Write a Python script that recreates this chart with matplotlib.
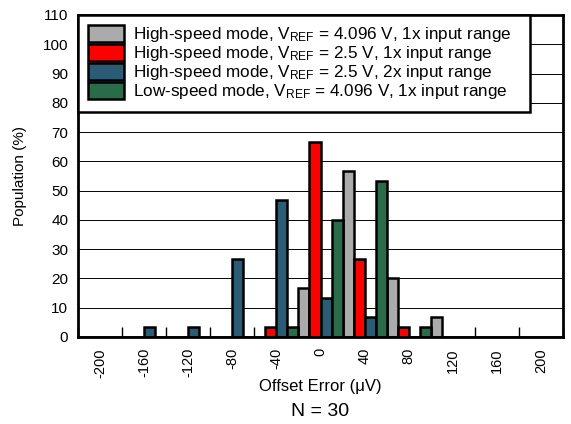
import numpy as np
import matplotlib
matplotlib.use("Agg")
import matplotlib.pyplot as plt

plt.rcParams['font.family'] = ['Liberation Sans', 'DejaVu Sans']
plt.rcParams['mathtext.fontset'] = 'custom'
plt.rcParams['mathtext.rm'] = 'Liberation Sans'
plt.rcParams['mathtext.it'] = 'Liberation Sans:italic'

# Offset error bins (uV) and population (%) per configuration
categories = [-200, -160, -120, -80, -40, 0, 40, 80, 120, 160, 200]
hs_4096_1x = [0, 0, 0, 0, 0, 16.7, 56.7, 20.0, 6.7, 0, 0]
hs_25_1x = [0, 0, 0, 0, 3.3, 66.7, 26.7, 3.3, 0, 0, 0]
hs_25_2x = [0, 3.3, 3.3, 26.7, 46.7, 13.3, 6.7, 0, 0, 0, 0]
ls_4096_1x = [0, 0, 0, 0, 3.3, 40.0, 53.3, 3.3, 0, 0, 0]

series = [
    (hs_4096_1x, '#ABABAB', r'High-speed mode, V$_{\mathrm{REF}}$ = 4.096 V, 1x input range'),
    (hs_25_1x, '#FF0000', r'High-speed mode, V$_{\mathrm{REF}}$ = 2.5 V, 1x input range'),
    (hs_25_2x, '#2C5B76', r'High-speed mode, V$_{\mathrm{REF}}$ = 2.5 V, 2x input range'),
    (ls_4096_1x, '#2A6C4A', r'Low-speed mode, V$_{\mathrm{REF}}$ = 4.096 V, 1x input range'),
]

fig = plt.figure(figsize=(5.71, 4.24), dpi=100)
ax = fig.add_axes([78 / 571, 1 - 337 / 424, (563 - 78) / 571, (337 - 15) / 424])

x = np.arange(len(categories))
w = 0.25
for i, (vals, col, lab) in enumerate(series):
    ax.bar(x + (i - 1.5) * w, vals, width=w, color=col, edgecolor='black',
           linewidth=1.8, label=lab, zorder=3)

ax.set_xlim(-0.5, len(categories) - 0.5)
ax.set_ylim(0, 110)
ax.set_yticks(np.arange(0, 111, 10))
ax.yaxis.grid(True, color='black', linewidth=0.7, zorder=0)
ax.tick_params(axis='y', length=0, labelsize=11, pad=7)

ax.set_xticks(x)
ax.set_xticklabels([str(c) for c in categories], rotation=90, fontsize=10.5)
ax.set_xticks(np.arange(-0.5, len(categories)), minor=True)
ax.tick_params(axis='x', which='major', length=0, pad=8)
ax.tick_params(axis='x', which='minor', direction='in', length=7, width=1, color='black')

for s in ax.spines.values():
    s.set_linewidth(2)
    s.set_zorder(4)

ax.set_ylabel('Population (%)', fontsize=11, labelpad=11)
ax.set_xlabel('Offset Error (μV)', fontsize=12, labelpad=1)
fig.text(0.5 * (78 + 563) / 571, 1 - 412 / 424, 'N = 30', ha='center', va='center', fontsize=14)

# legend frame stretched to the width seen in the reference
leg = ax.legend(loc='upper left', bbox_to_anchor=(0, 0, (530 - 78) / 485, 1),
                mode='expand', borderaxespad=0,
                fontsize=12.3, handlelength=2.1, handleheight=1.1, labelspacing=0,
                handletextpad=0.5, fancybox=False, framealpha=1, borderpad=0.6)
leg.get_frame().set_edgecolor('black')
leg.get_frame().set_linewidth(1.8)
leg.set_zorder(5)

fig.savefig('out.png', dpi=100)
